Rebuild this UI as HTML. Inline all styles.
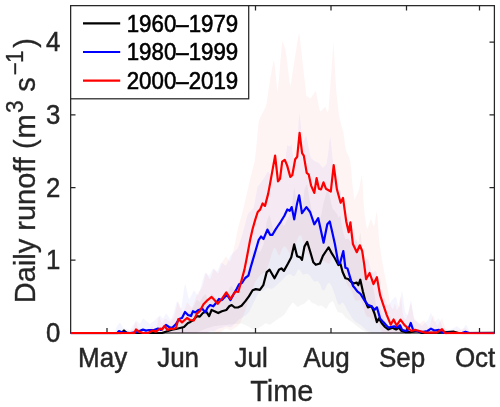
<!DOCTYPE html>
<html><head><meta charset="utf-8"><title>Daily runoff</title>
<style>html,body{margin:0;padding:0;background:#fff}svg{display:block;will-change:transform;opacity:0.999}text{font-family:"Liberation Sans",sans-serif;fill:#262626}</style></head><body>
<svg width="500" height="407" viewBox="0 0 500 407">
<rect width="500" height="407" fill="#fff"/>
<defs><clipPath id="c"><rect x="70.5" y="5.5" width="424.0" height="328.7"/></clipPath></defs>
<g stroke="#262626" stroke-width="1.25" fill="none">
<rect x="70.65" y="5.65" width="423.75" height="327.35"/>
<path d="M107.0 333.0v-5M107.0 5.5v5"/>
<path d="M182.5 333.0v-5M182.5 5.5v5"/>
<path d="M255.5 333.0v-5M255.5 5.5v5"/>
<path d="M331.0 333.0v-5M331.0 5.5v5"/>
<path d="M406.5 333.0v-5M406.5 5.5v5"/>
<path d="M479.5 333.0v-5M479.5 5.5v5"/>
<path d="M70.5 260.2h5M494.5 260.2h-5"/>
<path d="M70.5 187.5h5M494.5 187.5h-5"/>
<path d="M70.5 114.8h5M494.5 114.8h-5"/>
<path d="M70.5 42.0h5M494.5 42.0h-5"/>
</g>
<g clip-path="url(#c)">
<polygon points="70.5,333.2 71.5,333.2 72.5,333.2 73.5,333.2 74.5,333.2 75.5,333.2 76.5,333.2 77.5,333.2 78.5,333.2 79.5,333.2 80.5,333.2 81.5,333.2 82.5,333.2 83.5,333.2 84.5,333.2 85.5,333.2 86.5,333.2 87.5,333.2 88.5,333.2 89.5,333.2 90.5,333.2 91.5,333.2 92.5,333.2 93.5,333.2 94.5,333.2 95.5,333.2 96.5,333.2 97.5,333.2 98.5,333.2 99.5,333.2 100.5,333.2 101.5,333.2 102.5,333.2 103.5,333.2 104.5,333.2 105.5,333.2 106.5,333.2 107.5,333.2 108.5,333.2 109.5,333.2 110.5,333.2 111.5,333.2 112.5,333.2 113.5,333.2 114.5,333.2 115.5,333.2 116.5,333.2 117.5,333.2 118.5,333.2 119.5,333.2 120.5,333.2 121.5,332.5 122.5,330.7 123.5,328.9 124.5,328.8 125.5,330.5 126.5,332.2 127.5,333.0 128.5,333.0 129.5,333.0 130.5,333.0 131.5,333.0 132.5,333.0 133.5,333.0 134.5,333.0 135.5,333.0 136.5,333.0 137.5,333.0 138.5,333.0 139.5,333.0 140.5,333.0 141.5,333.0 142.5,333.0 143.5,333.0 144.5,333.0 145.5,333.0 146.5,333.0 147.5,333.0 148.5,333.0 149.5,333.0 150.5,333.0 151.5,333.0 152.5,333.0 153.5,333.0 154.5,333.0 155.5,333.0 156.5,333.0 157.5,333.0 158.5,333.0 159.5,333.0 160.5,333.0 161.5,333.0 162.5,332.7 163.5,332.0 164.5,331.3 165.5,330.7 166.5,330.0 167.5,329.3 168.5,328.6 169.5,328.0 170.5,327.2 171.5,326.6 172.5,326.1 173.5,325.8 174.5,325.5 175.5,325.1 176.5,324.8 177.5,324.2 178.5,323.8 179.5,323.2 180.5,322.8 181.5,322.2 182.5,321.8 183.5,321.2 184.5,320.0 185.5,318.0 186.5,316.0 187.5,314.0 188.5,312.6 189.5,311.8 190.5,310.8 191.5,309.5 192.5,308.2 193.5,306.9 194.5,304.8 195.5,302.4 196.5,300.3 197.5,300.1 198.5,300.9 199.5,301.7 200.5,300.6 201.5,298.7 202.5,296.8 203.5,295.7 204.5,295.0 205.5,294.1 206.5,295.4 207.5,298.9 208.5,302.4 209.5,302.6 210.5,298.0 211.5,293.4 212.5,294.0 213.5,295.1 214.5,296.2 215.5,297.5 216.5,298.6 217.5,299.7 218.5,300.2 219.5,299.3 220.5,298.4 221.5,297.5 222.5,296.8 223.5,296.4 224.5,295.9 225.5,295.5 226.5,294.7 227.5,292.3 228.5,289.9 229.5,287.8 230.5,286.8 231.5,285.8 232.5,287.0 233.5,288.8 234.5,290.5 235.5,291.0 236.5,291.0 237.5,291.1 238.5,290.6 239.5,289.8 240.5,288.9 241.5,288.1 242.5,285.5 243.5,282.6 244.5,279.7 245.5,276.7 246.5,273.5 247.5,270.3 248.5,267.1 249.5,263.5 250.5,259.5 251.5,255.6 252.5,251.6 253.5,250.6 254.5,250.1 255.5,249.6 256.5,249.8 257.5,250.4 258.5,251.0 259.5,251.8 260.5,251.1 261.5,249.1 262.5,247.1 263.5,244.1 264.5,237.2 265.5,230.2 266.5,222.2 267.5,218.9 268.5,216.8 269.5,214.8 270.5,218.0 271.5,222.3 272.5,226.6 273.5,230.9 274.5,235.2 275.5,232.1 276.5,228.9 277.5,225.7 278.5,222.5 279.5,220.7 280.5,220.3 281.5,220.1 282.5,222.9 283.5,225.8 284.5,225.2 285.5,222.9 286.5,221.0 287.5,219.1 288.5,217.0 289.5,214.5 290.5,212.0 291.5,208.1 292.5,200.7 293.5,191.8 294.5,187.2 295.5,194.4 296.5,201.6 297.5,205.8 298.5,207.0 299.5,208.3 300.5,210.1 301.5,213.4 302.5,209.7 303.5,199.2 304.5,189.1 305.5,186.8 306.5,184.6 307.5,185.2 308.5,192.7 309.5,198.7 310.5,204.1 311.5,209.8 312.5,215.9 313.5,221.5 314.5,223.2 315.5,224.7 316.5,224.2 317.5,222.9 318.5,221.9 319.5,221.4 320.5,218.2 321.5,213.3 322.5,207.6 323.5,203.0 324.5,199.2 325.5,195.5 326.5,192.0 327.5,190.9 328.5,189.8 329.5,194.8 330.5,199.5 331.5,204.0 332.5,208.0 333.5,209.7 334.5,210.5 335.5,211.9 336.5,213.3 337.5,214.8 338.5,217.7 339.5,216.5 340.5,215.3 341.5,222.7 342.5,229.6 343.5,233.0 344.5,236.2 345.5,239.3 346.5,239.0 347.5,238.7 348.5,238.8 349.5,240.2 350.5,241.5 351.5,242.5 352.5,243.0 353.5,243.3 354.5,242.3 355.5,240.8 356.5,239.2 357.5,240.9 358.5,242.1 359.5,235.8 360.5,232.4 361.5,240.7 362.5,249.1 363.5,256.9 364.5,264.3 365.5,271.4 366.5,275.8 367.5,280.3 368.5,281.6 369.5,280.9 370.5,280.3 371.5,279.6 372.5,284.5 373.5,289.3 374.5,294.2 375.5,301.4 376.5,308.5 377.5,309.2 378.5,305.5 379.5,306.0 380.5,309.4 381.5,312.8 382.5,315.4 383.5,317.7 384.5,320.0 385.5,322.0 386.5,323.5 387.5,325.1 388.5,325.9 389.5,325.1 390.5,324.3 391.5,323.5 392.5,322.9 393.5,323.8 394.5,324.7 395.5,325.6 396.5,325.6 397.5,324.1 398.5,322.6 399.5,323.9 400.5,326.4 401.5,328.9 402.5,329.6 403.5,330.2 404.5,330.7 405.5,331.2 406.5,331.3 407.5,331.3 408.5,331.3 409.5,331.3 410.5,331.2 411.5,330.9 412.5,330.6 413.5,330.3 414.5,330.0 415.5,329.6 416.5,329.3 417.5,329.4 418.5,330.3 419.5,331.1 420.5,332.0 421.5,332.9 422.5,333.0 423.5,333.0 424.5,332.9 425.5,332.9 426.5,332.9 427.5,332.9 428.5,332.8 429.5,332.8 430.5,332.7 431.5,332.7 432.5,332.6 433.5,332.6 434.5,332.5 435.5,332.5 436.5,332.4 437.5,332.4 438.5,332.4 439.5,332.3 440.5,332.2 441.5,332.1 442.5,332.0 443.5,331.8 444.5,331.7 445.5,331.6 446.5,331.4 447.5,331.3 448.5,331.2 449.5,331.0 450.5,330.9 451.5,330.8 452.5,330.7 453.5,330.5 454.5,330.8 455.5,331.3 456.5,331.9 457.5,332.5 458.5,333.0 459.5,333.0 460.5,333.0 461.5,333.0 462.5,333.0 463.5,333.0 464.5,333.0 465.5,333.0 466.5,333.0 467.5,332.9 468.5,332.9 469.5,332.9 470.5,332.9 471.5,332.9 472.5,332.9 473.5,332.9 474.5,332.9 475.5,332.8 476.5,332.8 477.5,332.8 478.5,332.8 479.5,332.8 480.5,332.8 481.5,332.8 482.5,332.8 483.5,332.7 484.5,332.7 485.5,332.7 486.5,332.7 487.5,332.7 488.5,332.7 489.5,332.7 490.5,332.7 491.5,332.6 492.5,332.6 493.5,332.6 494.5,332.6 494.5,333.0 493.5,333.0 492.5,333.0 491.5,333.0 490.5,333.0 489.5,333.0 488.5,333.0 487.5,333.0 486.5,333.0 485.5,333.0 484.5,333.0 483.5,333.0 482.5,333.0 481.5,333.0 480.5,333.0 479.5,333.0 478.5,333.0 477.5,333.0 476.5,333.0 475.5,333.0 474.5,333.0 473.5,333.0 472.5,333.0 471.5,333.0 470.5,333.0 469.5,333.0 468.5,333.0 467.5,333.0 466.5,333.0 465.5,333.0 464.5,333.0 463.5,333.0 462.5,332.9 461.5,332.9 460.5,332.9 459.5,332.9 458.5,332.9 457.5,332.9 456.5,332.9 455.5,332.9 454.5,332.9 453.5,332.9 452.5,332.9 451.5,332.9 450.5,332.9 449.5,332.9 448.5,332.9 447.5,332.9 446.5,332.9 445.5,332.9 444.5,332.9 443.5,332.9 442.5,332.9 441.5,332.9 440.5,332.9 439.5,332.9 438.5,332.9 437.5,332.9 436.5,332.9 435.5,332.9 434.5,332.9 433.5,332.9 432.5,332.9 431.5,332.9 430.5,332.9 429.5,332.9 428.5,332.9 427.5,332.9 426.5,332.9 425.5,332.9 424.5,332.9 423.5,332.9 422.5,332.9 421.5,332.9 420.5,332.9 419.5,332.9 418.5,332.9 417.5,332.9 416.5,332.9 415.5,332.9 414.5,332.9 413.5,332.9 412.5,332.9 411.5,332.9 410.5,332.9 409.5,332.9 408.5,332.9 407.5,332.9 406.5,332.9 405.5,332.9 404.5,332.9 403.5,332.9 402.5,332.9 401.5,332.9 400.5,332.9 399.5,332.8 398.5,332.8 397.5,332.8 396.5,332.8 395.5,332.8 394.5,332.8 393.5,332.8 392.5,332.8 391.5,332.8 390.5,332.8 389.5,332.8 388.5,332.8 387.5,332.8 386.5,332.8 385.5,332.8 384.5,332.8 383.5,332.8 382.5,332.8 381.5,332.8 380.5,332.8 379.5,332.8 378.5,332.8 377.5,332.8 376.5,332.8 375.5,332.8 374.5,332.8 373.5,332.8 372.5,332.8 371.5,332.8 370.5,332.8 369.5,332.8 368.5,332.8 367.5,332.6 366.5,332.1 365.5,331.7 364.5,331.2 363.5,330.7 362.5,330.1 361.5,329.5 360.5,328.8 359.5,328.1 358.5,327.4 357.5,326.6 356.5,325.8 355.5,325.0 354.5,324.2 353.5,323.3 352.5,322.4 351.5,321.7 350.5,321.1 349.5,320.4 348.5,319.8 347.5,319.0 346.5,318.2 345.5,317.4 344.5,316.3 343.5,315.0 342.5,313.7 341.5,312.9 340.5,312.7 339.5,312.4 338.5,312.2 337.5,311.8 336.5,309.5 335.5,307.2 334.5,304.8 333.5,302.5 332.5,301.0 331.5,301.7 330.5,302.4 329.5,303.2 328.5,305.1 327.5,306.9 326.5,308.8 325.5,308.4 324.5,307.7 323.5,306.9 322.5,306.2 321.5,305.6 320.5,305.7 319.5,305.8 318.5,305.9 317.5,305.7 316.5,305.0 315.5,304.3 314.5,303.8 313.5,303.5 312.5,303.2 311.5,302.4 310.5,301.2 309.5,300.0 308.5,299.5 307.5,300.5 306.5,301.5 305.5,302.5 304.5,303.5 303.5,304.2 302.5,304.5 301.5,304.8 300.5,305.3 299.5,305.9 298.5,306.5 297.5,306.9 296.5,305.9 295.5,305.0 294.5,304.0 293.5,303.1 292.5,302.8 291.5,304.1 290.5,305.5 289.5,306.8 288.5,308.1 287.5,309.7 286.5,311.4 285.5,313.1 284.5,314.4 283.5,315.2 282.5,316.1 281.5,316.9 280.5,317.5 279.5,318.1 278.5,318.8 277.5,319.4 276.5,320.0 275.5,320.7 274.5,321.4 273.5,322.2 272.5,323.0 271.5,323.8 270.5,324.6 269.5,324.8 268.5,324.4 267.5,324.0 266.5,323.6 265.5,323.3 264.5,324.0 263.5,324.7 262.5,325.5 261.5,326.2 260.5,326.9 259.5,327.6 258.5,328.1 257.5,328.4 256.5,328.6 255.5,328.8 254.5,329.1 253.5,329.3 252.5,329.3 251.5,328.6 250.5,328.0 249.5,327.3 248.5,326.8 247.5,326.2 246.5,325.8 245.5,325.2 244.5,324.8 243.5,324.2 242.5,323.8 241.5,323.5 240.5,323.6 239.5,323.7 238.5,323.8 237.5,323.9 236.5,324.0 235.5,324.0 234.5,324.1 233.5,324.2 232.5,324.3 231.5,324.4 230.5,324.5 229.5,324.6 228.5,324.6 227.5,324.8 226.5,324.9 225.5,324.9 224.5,325.1 223.5,325.1 222.5,325.2 221.5,325.4 220.5,325.4 219.5,325.6 218.5,325.6 217.5,325.8 216.5,325.9 215.5,325.9 214.5,326.1 213.5,326.4 212.5,326.8 211.5,327.1 210.5,327.4 209.5,327.6 208.5,327.9 207.5,328.2 206.5,328.6 205.5,328.9 204.5,329.2 203.5,329.7 202.5,330.1 201.5,330.6 200.5,331.0 199.5,331.4 198.5,331.9 197.5,332.3 196.5,332.8 195.5,333.0 194.5,333.0 193.5,333.0 192.5,333.0 191.5,333.0 190.5,333.0 189.5,333.0 188.5,333.0 187.5,333.0 186.5,333.0 185.5,333.0 184.5,333.0 183.5,333.0 182.5,333.0 181.5,333.0 180.5,333.0 179.5,333.0 178.5,333.0 177.5,333.0 176.5,333.0 175.5,333.0 174.5,333.0 173.5,333.0 172.5,333.0 171.5,333.0 170.5,333.0 169.5,333.0 168.5,333.0 167.5,333.0 166.5,333.0 165.5,333.0 164.5,333.0 163.5,333.0 162.5,333.0 161.5,333.0 160.5,333.0 159.5,333.0 158.5,333.0 157.5,333.0 156.5,333.0 155.5,333.0 154.5,333.0 153.5,333.0 152.5,333.0 151.5,333.0 150.5,333.0 149.5,333.0 148.5,333.0 147.5,333.0 146.5,333.0 145.5,333.0 144.5,333.0 143.5,333.0 142.5,333.0 141.5,333.0 140.5,333.0 139.5,333.0 138.5,333.0 137.5,333.0 136.5,333.0 135.5,333.0 134.5,333.0 133.5,333.0 132.5,333.0 131.5,333.0 130.5,333.0 129.5,333.0 128.5,333.0 127.5,333.0 126.5,333.0 125.5,333.0 124.5,333.0 123.5,333.0 122.5,333.0 121.5,333.0 120.5,333.0 119.5,333.0 118.5,333.0 117.5,333.0 116.5,333.0 115.5,333.0 114.5,333.0 113.5,333.0 112.5,333.0 111.5,333.0 110.5,333.0 109.5,333.0 108.5,333.0 107.5,333.0 106.5,333.0 105.5,333.0 104.5,333.0 103.5,333.0 102.5,333.0 101.5,333.0 100.5,333.0 99.5,333.0 98.5,333.0 97.5,333.0 96.5,333.0 95.5,333.0 94.5,333.0 93.5,333.0 92.5,333.0 91.5,333.0 90.5,333.0 89.5,333.0 88.5,333.0 87.5,333.0 86.5,333.0 85.5,333.0 84.5,333.0 83.5,333.0 82.5,333.0 81.5,333.0 80.5,333.0 79.5,333.0 78.5,333.0 77.5,333.0 76.5,333.0 75.5,333.0 74.5,333.0 73.5,333.0 72.5,333.0 71.5,333.0 70.5,333.0" fill="#000" fill-opacity="0.04"/>
<polygon points="70.5,333.0 71.5,333.0 72.5,333.0 73.5,333.0 74.5,333.0 75.5,333.0 76.5,333.0 77.5,333.0 78.5,333.0 79.5,333.0 80.5,333.0 81.5,333.0 82.5,333.0 83.5,333.0 84.5,333.0 85.5,333.0 86.5,333.0 87.5,333.0 88.5,333.0 89.5,333.0 90.5,333.0 91.5,333.0 92.5,333.0 93.5,333.0 94.5,333.0 95.5,333.0 96.5,333.0 97.5,333.0 98.5,333.0 99.5,333.0 100.5,333.0 101.5,333.0 102.5,333.0 103.5,333.0 104.5,333.0 105.5,333.0 106.5,333.0 107.5,333.0 108.5,333.0 109.5,333.0 110.5,333.0 111.5,333.0 112.5,333.0 113.5,333.0 114.5,331.8 115.5,329.5 116.5,327.2 117.5,325.3 118.5,324.0 119.5,322.7 120.5,323.0 121.5,325.0 122.5,327.0 123.5,328.1 124.5,328.4 125.5,328.7 126.5,329.0 127.5,329.3 128.5,329.6 129.5,329.9 130.5,329.2 131.5,327.5 132.5,325.8 133.5,324.2 134.5,322.5 135.5,320.8 136.5,320.5 137.5,321.5 138.5,322.5 139.5,323.5 140.5,323.0 141.5,321.0 142.5,319.0 143.5,318.4 144.5,319.3 145.5,320.1 146.5,321.0 147.5,321.9 148.5,322.7 149.5,323.6 150.5,323.6 151.5,322.8 152.5,322.0 153.5,321.2 154.5,320.4 155.5,319.5 156.5,318.5 157.5,317.5 158.5,316.5 159.5,315.5 160.5,315.7 161.5,317.0 162.5,318.3 163.5,318.0 164.5,316.0 165.5,314.0 166.5,313.7 167.5,315.1 168.5,316.5 169.5,317.9 170.5,319.3 171.5,318.7 172.5,316.0 173.5,313.3 174.5,310.0 175.5,306.0 176.5,302.0 177.5,301.2 178.5,303.8 179.5,306.2 180.5,308.8 181.5,306.5 182.5,299.5 183.5,292.5 184.5,285.5 185.5,284.2 186.5,288.8 187.5,293.2 188.5,297.8 189.5,299.0 190.5,297.0 191.5,295.0 192.5,293.0 193.5,291.0 194.5,290.8 195.5,292.2 196.5,293.8 197.5,295.2 198.5,294.3 199.5,291.0 200.5,287.7 201.5,284.2 202.5,280.8 203.5,277.2 204.5,273.8 205.5,272.5 206.5,273.5 207.5,274.5 208.5,275.5 209.5,275.0 210.5,273.0 211.5,271.0 212.5,269.0 213.5,268.5 214.5,269.5 215.5,270.5 216.5,271.5 217.5,270.8 218.5,268.2 219.5,265.8 220.5,263.2 221.5,262.4 222.5,263.2 223.5,264.0 224.5,264.8 225.5,265.6 226.5,264.8 227.5,262.2 228.5,259.8 229.5,257.2 230.5,255.5 231.5,254.5 232.5,253.5 233.5,252.5 234.5,251.5 235.5,250.5 236.5,249.5 237.5,248.5 238.5,246.4 239.5,243.2 240.5,240.0 241.5,236.8 242.5,233.6 243.5,230.1 244.5,226.2 245.5,222.4 246.5,218.6 247.5,214.8 248.5,212.9 249.5,212.0 250.5,211.0 251.5,210.0 252.5,209.1 253.5,208.1 254.5,203.1 255.5,197.6 256.5,192.1 257.5,186.6 258.5,185.2 259.5,184.3 260.5,182.9 261.5,181.5 262.5,180.1 263.5,178.7 264.5,177.1 265.5,175.4 266.5,173.6 267.5,171.9 268.5,171.8 269.5,173.5 270.5,175.2 271.5,176.7 272.5,178.0 273.5,179.3 274.5,179.5 275.5,178.5 276.5,177.5 277.5,176.5 278.5,175.3 279.5,174.0 280.5,172.7 281.5,171.0 282.5,169.0 283.5,167.0 284.5,163.3 285.5,158.0 286.5,150.0 287.5,144.7 288.5,145.8 289.5,146.7 290.5,145.3 291.5,143.9 292.5,151.2 293.5,157.8 294.5,160.6 295.5,161.0 296.5,159.0 297.5,144.2 298.5,122.2 299.5,112.9 300.5,121.0 301.5,131.3 302.5,142.0 303.5,140.7 304.5,138.9 305.5,136.6 306.5,136.3 307.5,140.8 308.5,146.0 309.5,151.8 310.5,155.9 311.5,158.4 312.5,159.3 313.5,160.1 314.5,161.0 315.5,161.4 316.5,161.9 317.5,162.3 318.5,162.8 319.5,163.6 320.5,164.9 321.5,166.1 322.5,167.4 323.5,167.4 324.5,166.3 325.5,165.1 326.5,164.0 327.5,157.0 328.5,150.0 329.5,140.3 330.5,136.6 331.5,147.0 332.5,157.0 333.5,164.7 334.5,169.0 335.5,170.9 336.5,173.8 337.5,178.3 338.5,182.8 339.5,187.5 340.5,192.5 341.5,197.5 342.5,200.8 343.5,202.5 344.5,204.2 345.5,207.5 346.5,212.6 347.5,217.7 348.5,220.7 349.5,222.4 350.5,224.1 351.5,226.5 352.5,229.5 353.5,232.5 354.5,235.5 355.5,238.5 356.5,241.2 357.5,243.7 358.5,246.2 359.5,248.7 360.5,251.5 361.5,254.5 362.5,257.5 363.5,260.5 364.5,261.5 365.5,260.5 366.5,259.5 367.5,258.5 368.5,260.0 369.5,264.0 370.5,268.0 371.5,272.0 372.5,273.5 373.5,272.5 374.5,271.5 375.5,270.5 376.5,272.0 377.5,276.0 378.5,280.0 379.5,284.0 380.5,287.2 381.5,289.8 382.5,292.2 383.5,294.8 384.5,297.2 385.5,299.8 386.5,302.2 387.5,304.8 388.5,305.2 389.5,303.8 390.5,302.2 391.5,300.8 392.5,299.5 393.5,298.5 394.5,297.5 395.5,296.5 396.5,298.3 397.5,303.0 398.5,307.7 399.5,306.3 400.5,299.0 401.5,291.7 402.5,292.0 403.5,300.0 404.5,308.0 405.5,312.7 406.5,314.0 407.5,315.3 408.5,313.0 409.5,307.0 410.5,301.0 411.5,301.7 412.5,309.0 413.5,316.3 414.5,320.2 415.5,320.8 416.5,321.2 417.5,321.8 418.5,322.5 419.5,323.5 420.5,324.5 421.5,325.5 422.5,325.5 423.5,324.5 424.5,323.5 425.5,322.5 426.5,321.5 427.5,320.5 428.5,318.7 429.5,316.0 430.5,313.3 431.5,313.7 432.5,317.0 433.5,320.3 434.5,321.6 435.5,320.8 436.5,320.0 437.5,319.2 438.5,318.4 439.5,319.2 440.5,321.8 441.5,324.2 442.5,326.8 443.5,328.1 444.5,328.4 445.5,328.7 446.5,329.0 447.5,329.3 448.5,329.6 449.5,329.9 450.5,329.7 451.5,329.1 452.5,328.6 453.5,328.0 454.5,327.4 455.5,326.9 456.5,326.3 457.5,326.5 458.5,327.5 459.5,328.5 460.5,329.5 461.5,330.5 462.5,330.1 463.5,328.4 464.5,326.6 465.5,324.9 466.5,325.0 467.5,327.0 468.5,329.0 469.5,331.0 470.5,332.0 471.5,332.1 472.5,332.1 473.5,332.1 474.5,332.2 475.5,332.2 476.5,332.3 477.5,332.3 478.5,332.3 479.5,332.4 480.5,332.4 481.5,332.5 482.5,332.5 483.5,332.6 484.5,332.6 485.5,332.6 486.5,332.7 487.5,332.7 488.5,332.8 489.5,332.8 490.5,332.8 491.5,332.9 492.5,332.9 493.5,333.0 494.5,333.0 494.5,333.0 493.5,333.0 492.5,333.0 491.5,333.0 490.5,333.0 489.5,333.0 488.5,333.0 487.5,333.0 486.5,333.0 485.5,333.0 484.5,333.0 483.5,333.0 482.5,333.0 481.5,333.0 480.5,333.0 479.5,333.0 478.5,333.0 477.5,333.0 476.5,333.0 475.5,333.0 474.5,333.0 473.5,333.0 472.5,333.0 471.5,333.0 470.5,333.0 469.5,333.0 468.5,333.0 467.5,333.0 466.5,333.0 465.5,333.0 464.5,333.0 463.5,333.0 462.5,333.0 461.5,333.0 460.5,333.0 459.5,333.0 458.5,333.0 457.5,333.0 456.5,333.0 455.5,333.0 454.5,333.0 453.5,333.0 452.5,333.0 451.5,333.0 450.5,333.0 449.5,333.0 448.5,333.0 447.5,333.0 446.5,333.0 445.5,333.0 444.5,333.0 443.5,333.0 442.5,333.0 441.5,333.0 440.5,333.0 439.5,333.0 438.5,333.0 437.5,333.0 436.5,333.0 435.5,333.0 434.5,333.0 433.5,333.0 432.5,333.0 431.5,333.0 430.5,333.0 429.5,333.0 428.5,333.0 427.5,333.0 426.5,333.0 425.5,333.0 424.5,333.0 423.5,333.0 422.5,333.0 421.5,333.0 420.5,333.0 419.5,333.0 418.5,333.0 417.5,333.0 416.5,333.0 415.5,333.0 414.5,333.0 413.5,333.0 412.5,333.0 411.5,333.0 410.5,333.0 409.5,333.0 408.5,333.0 407.5,333.0 406.5,333.0 405.5,333.0 404.5,333.0 403.5,333.0 402.5,333.0 401.5,333.0 400.5,333.0 399.5,333.0 398.5,333.0 397.5,333.0 396.5,333.0 395.5,333.0 394.5,333.0 393.5,333.0 392.5,333.0 391.5,333.0 390.5,333.0 389.5,333.0 388.5,333.0 387.5,333.0 386.5,333.0 385.5,333.0 384.5,333.0 383.5,333.0 382.5,333.0 381.5,333.0 380.5,333.0 379.5,333.0 378.5,333.0 377.5,333.0 376.5,333.0 375.5,333.0 374.5,333.0 373.5,333.0 372.5,333.0 371.5,332.5 370.5,332.1 369.5,331.7 368.5,331.3 367.5,330.8 366.5,330.2 365.5,329.5 364.5,328.6 363.5,327.7 362.5,326.8 361.5,325.9 360.5,325.1 359.5,324.5 358.5,323.8 357.5,323.2 356.5,322.6 355.5,321.9 354.5,321.0 353.5,320.0 352.5,318.8 351.5,317.3 350.5,315.5 349.5,313.6 348.5,312.0 347.5,310.7 346.5,308.9 345.5,306.6 344.5,304.9 343.5,303.6 342.5,302.8 341.5,303.1 340.5,304.5 339.5,305.0 338.5,304.4 337.5,302.7 336.5,300.2 335.5,297.1 334.5,294.1 333.5,291.2 332.5,288.5 331.5,286.0 330.5,284.2 329.5,283.1 328.5,283.1 327.5,284.1 326.5,286.1 325.5,288.4 324.5,290.0 323.5,290.6 322.5,290.1 321.5,288.4 320.5,285.6 319.5,283.4 318.5,281.9 317.5,281.2 316.5,281.2 315.5,281.5 314.5,281.5 313.5,280.9 312.5,279.8 311.5,278.3 310.5,276.8 309.5,275.5 308.5,274.5 307.5,273.9 306.5,273.7 305.5,273.9 304.5,274.4 303.5,274.7 302.5,274.2 301.5,272.7 300.5,271.1 299.5,269.8 298.5,269.4 297.5,270.4 296.5,272.8 295.5,275.0 294.5,276.1 293.5,276.2 292.5,275.9 291.5,275.0 290.5,274.3 289.5,274.2 288.5,274.6 287.5,275.1 286.5,275.7 285.5,276.5 284.5,277.6 283.5,278.7 282.5,279.8 281.5,280.7 280.5,281.7 279.5,282.6 278.5,283.5 277.5,284.4 276.5,285.3 275.5,286.3 274.5,287.3 273.5,288.1 272.5,288.7 271.5,289.0 270.5,288.8 269.5,288.2 268.5,287.9 267.5,287.8 266.5,288.2 265.5,289.0 264.5,290.0 263.5,290.6 262.5,291.0 261.5,291.3 260.5,291.5 259.5,292.2 258.5,293.5 257.5,295.1 256.5,297.0 255.5,299.0 254.5,301.1 253.5,303.1 252.5,305.2 251.5,307.2 250.5,309.3 249.5,311.2 248.5,312.7 247.5,313.8 246.5,314.7 245.5,315.4 244.5,316.1 243.5,316.8 242.5,317.5 241.5,318.1 240.5,318.7 239.5,319.3 238.5,320.0 237.5,320.9 236.5,321.9 235.5,323.0 234.5,324.1 233.5,325.2 232.5,326.3 231.5,327.0 230.5,327.3 229.5,327.2 228.5,326.9 227.5,326.5 226.5,326.3 225.5,326.5 224.5,326.9 223.5,327.4 222.5,327.8 221.5,328.0 220.5,328.2 219.5,328.4 218.5,328.7 217.5,329.2 216.5,329.8 215.5,330.6 214.5,331.2 213.5,331.6 212.5,331.8 211.5,331.9 210.5,332.0 209.5,332.2 208.5,332.7 207.5,333.0 206.5,333.0 205.5,333.0 204.5,333.0 203.5,333.0 202.5,333.0 201.5,333.0 200.5,333.0 199.5,333.0 198.5,333.0 197.5,333.0 196.5,333.0 195.5,333.0 194.5,333.0 193.5,333.0 192.5,333.0 191.5,333.0 190.5,333.0 189.5,333.0 188.5,333.0 187.5,333.0 186.5,333.0 185.5,333.0 184.5,333.0 183.5,333.0 182.5,333.0 181.5,333.0 180.5,333.0 179.5,333.0 178.5,333.0 177.5,333.0 176.5,333.0 175.5,333.0 174.5,333.0 173.5,333.0 172.5,333.0 171.5,333.0 170.5,333.0 169.5,333.0 168.5,333.0 167.5,333.0 166.5,333.0 165.5,333.0 164.5,333.0 163.5,333.0 162.5,333.0 161.5,333.0 160.5,333.0 159.5,333.0 158.5,333.0 157.5,333.0 156.5,333.0 155.5,333.0 154.5,333.0 153.5,333.0 152.5,333.0 151.5,333.0 150.5,333.0 149.5,333.0 148.5,333.0 147.5,333.0 146.5,333.0 145.5,333.0 144.5,333.0 143.5,333.0 142.5,333.0 141.5,333.0 140.5,333.0 139.5,333.0 138.5,333.0 137.5,333.0 136.5,333.0 135.5,333.0 134.5,333.0 133.5,333.0 132.5,333.0 131.5,333.0 130.5,333.0 129.5,333.0 128.5,333.0 127.5,333.0 126.5,333.0 125.5,333.0 124.5,333.0 123.5,333.0 122.5,333.0 121.5,333.0 120.5,333.0 119.5,333.0 118.5,333.0 117.5,333.0 116.5,333.0 115.5,333.0 114.5,333.0 113.5,333.0 112.5,333.0 111.5,333.0 110.5,333.0 109.5,333.0 108.5,333.0 107.5,333.0 106.5,333.0 105.5,333.0 104.5,333.0 103.5,333.0 102.5,333.0 101.5,333.0 100.5,333.0 99.5,333.0 98.5,333.0 97.5,333.0 96.5,333.0 95.5,333.0 94.5,333.0 93.5,333.0 92.5,333.0 91.5,333.0 90.5,333.0 89.5,333.0 88.5,333.0 87.5,333.0 86.5,333.0 85.5,333.0 84.5,333.0 83.5,333.0 82.5,333.0 81.5,333.0 80.5,333.0 79.5,333.0 78.5,333.0 77.5,333.0 76.5,333.0 75.5,333.0 74.5,333.0 73.5,333.0 72.5,333.0 71.5,333.0 70.5,333.0" fill="#0000ff" fill-opacity="0.04"/>
<polygon points="70.5,333.0 71.5,333.0 72.5,333.0 73.5,333.0 74.5,333.0 75.5,333.0 76.5,333.0 77.5,333.0 78.5,333.0 79.5,333.0 80.5,333.0 81.5,333.0 82.5,333.0 83.5,333.0 84.5,333.0 85.5,333.0 86.5,333.0 87.5,333.0 88.5,333.0 89.5,333.0 90.5,333.0 91.5,333.0 92.5,333.0 93.5,333.0 94.5,333.0 95.5,333.0 96.5,333.0 97.5,333.0 98.5,333.0 99.5,333.0 100.5,333.0 101.5,333.0 102.5,333.0 103.5,333.0 104.5,333.0 105.5,333.0 106.5,333.0 107.5,333.0 108.5,333.0 109.5,333.0 110.5,333.0 111.5,333.0 112.5,333.0 113.5,333.0 114.5,333.0 115.5,333.0 116.5,333.0 117.5,333.0 118.5,333.0 119.5,333.0 120.5,333.0 121.5,333.0 122.5,333.0 123.5,333.0 124.5,333.0 125.5,333.0 126.5,333.0 127.5,333.0 128.5,332.6 129.5,331.8 130.5,331.0 131.5,330.2 132.5,329.4 133.5,327.7 134.5,325.0 135.5,322.3 136.5,322.5 137.5,325.5 138.5,328.5 139.5,330.1 140.5,330.4 141.5,330.6 142.5,330.9 143.5,331.1 144.5,331.4 145.5,331.6 146.5,331.9 147.5,331.4 148.5,330.2 149.5,329.0 150.5,327.8 151.5,326.6 152.5,326.5 153.5,327.5 154.5,328.5 155.5,329.5 156.5,327.5 157.5,322.5 158.5,317.5 159.5,316.5 160.5,319.5 161.5,322.5 162.5,323.0 163.5,321.0 164.5,319.0 165.5,318.4 166.5,319.2 167.5,320.0 168.5,320.8 169.5,321.6 170.5,321.5 171.5,320.5 172.5,319.5 173.5,318.5 174.5,315.8 175.5,311.2 176.5,306.8 177.5,302.2 178.5,301.4 179.5,304.2 180.5,307.0 181.5,309.8 182.5,312.6 183.5,312.5 184.5,309.5 185.5,306.5 186.5,303.5 187.5,302.6 188.5,303.8 189.5,305.0 190.5,306.2 191.5,307.4 192.5,306.6 193.5,303.8 194.5,301.0 195.5,298.2 196.5,295.4 197.5,293.4 198.5,292.2 199.5,291.0 200.5,289.8 201.5,288.6 202.5,286.0 203.5,282.0 204.5,278.0 205.5,274.0 206.5,273.0 207.5,275.0 208.5,277.0 209.5,279.0 210.5,278.5 211.5,275.5 212.5,272.5 213.5,269.5 214.5,268.8 215.5,270.2 216.5,271.8 217.5,273.2 218.5,272.5 219.5,269.5 220.5,266.5 221.5,263.5 222.5,261.2 223.5,259.8 224.5,258.2 225.5,256.8 226.5,256.8 227.5,258.2 228.5,259.8 229.5,261.2 230.5,260.2 231.5,256.8 232.5,253.2 233.5,249.8 234.5,245.5 235.5,240.5 236.5,235.5 237.5,230.5 238.5,226.2 239.5,222.6 240.5,219.0 241.5,215.4 242.5,211.8 243.5,207.8 244.5,203.4 245.5,199.1 246.5,194.7 247.5,190.3 248.5,185.9 249.5,181.6 250.5,177.2 251.5,173.1 252.5,169.4 253.5,165.6 254.5,161.9 255.5,154.7 256.5,144.1 257.5,133.4 258.5,122.8 259.5,119.1 260.5,117.1 261.5,115.0 262.5,113.0 263.5,111.0 264.5,109.0 265.5,107.1 266.5,103.2 267.5,96.4 268.5,89.7 269.5,82.9 270.5,76.8 271.5,71.4 272.5,65.9 273.5,60.5 274.5,62.7 275.5,72.5 276.5,82.2 277.5,92.0 278.5,82.7 279.5,71.2 280.5,59.8 281.5,48.3 282.5,41.1 283.5,43.8 284.5,46.5 285.5,49.2 286.5,56.3 287.5,64.5 288.5,72.8 289.5,81.0 290.5,86.2 291.5,79.5 292.5,72.7 293.5,65.9 294.5,59.3 295.5,53.2 296.5,47.2 297.5,41.1 298.5,35.0 299.5,33.6 300.5,42.9 301.5,52.1 302.5,61.4 303.5,69.9 304.5,78.5 305.5,87.1 306.5,95.7 307.5,96.4 308.5,97.1 309.5,97.7 310.5,98.4 311.5,96.9 312.5,95.4 313.5,93.9 314.5,92.4 315.5,90.9 316.5,93.5 317.5,98.7 318.5,104.0 319.5,109.3 320.5,111.4 321.5,110.4 322.5,109.4 323.5,108.4 324.5,107.4 325.5,106.8 326.5,109.8 327.5,112.8 328.5,109.2 329.5,95.7 330.5,82.2 331.5,68.6 332.5,55.1 333.5,41.6 334.5,59.6 335.5,77.7 336.5,93.0 337.5,102.0 338.5,111.0 339.5,117.3 340.5,121.8 341.5,125.7 342.5,129.0 343.5,132.8 344.5,140.3 345.5,147.7 346.5,151.6 347.5,153.9 348.5,155.8 349.5,157.6 350.5,162.4 351.5,172.5 352.5,185.0 353.5,193.3 354.5,200.0 355.5,197.6 356.5,195.2 357.5,193.0 358.5,191.0 359.5,187.0 360.5,181.0 361.5,175.0 362.5,181.5 363.5,200.5 364.5,213.3 365.5,220.0 366.5,226.7 367.5,228.5 368.5,225.5 369.5,222.5 370.5,219.5 371.5,219.7 372.5,223.0 373.5,226.3 374.5,224.7 375.5,218.0 376.5,211.3 377.5,216.0 378.5,232.0 379.5,243.3 380.5,250.0 381.5,256.7 382.5,262.7 383.5,268.0 384.5,273.3 385.5,278.3 386.5,283.0 387.5,287.7 388.5,293.5 389.5,300.5 390.5,305.0 391.5,307.0 392.5,309.0 393.5,308.0 394.5,304.0 395.5,304.5 396.5,309.5 397.5,309.8 398.5,305.2 399.5,300.8 400.5,296.2 401.5,299.5 402.5,310.5 403.5,316.7 404.5,318.0 405.5,319.3 406.5,318.2 407.5,314.6 408.5,311.0 409.5,307.4 410.5,303.8 411.5,304.7 412.5,310.0 413.5,315.3 414.5,318.6 415.5,319.8 416.5,321.0 417.5,322.2 418.5,323.4 419.5,323.6 420.5,322.8 421.5,322.0 422.5,321.2 423.5,320.4 424.5,320.8 425.5,322.4 426.5,324.0 427.5,325.6 428.5,327.2 429.5,326.2 430.5,322.8 431.5,319.2 432.5,315.8 433.5,315.5 434.5,318.5 435.5,321.5 436.5,324.5 437.5,325.2 438.5,323.6 439.5,322.0 440.5,320.4 441.5,318.8 442.5,319.5 443.5,322.5 444.5,325.5 445.5,328.5 446.5,330.1 447.5,330.2 448.5,330.3 449.5,330.4 450.5,330.5 451.5,330.6 452.5,330.7 453.5,330.8 454.5,330.9 455.5,330.9 456.5,330.6 457.5,330.2 458.5,329.9 459.5,329.6 460.5,329.4 461.5,329.1 462.5,328.8 463.5,328.4 464.5,328.1 465.5,328.4 466.5,329.2 467.5,330.0 468.5,330.8 469.5,331.6 470.5,332.0 471.5,332.1 472.5,332.1 473.5,332.1 474.5,332.2 475.5,332.2 476.5,332.3 477.5,332.3 478.5,332.3 479.5,332.4 480.5,332.4 481.5,332.5 482.5,332.5 483.5,332.6 484.5,332.6 485.5,332.6 486.5,332.7 487.5,332.7 488.5,332.8 489.5,332.8 490.5,332.8 491.5,332.9 492.5,332.9 493.5,333.0 494.5,333.0 494.5,333.0 493.5,333.0 492.5,333.0 491.5,333.0 490.5,333.0 489.5,333.0 488.5,333.0 487.5,333.0 486.5,333.0 485.5,333.0 484.5,333.0 483.5,333.0 482.5,333.0 481.5,333.0 480.5,333.0 479.5,333.0 478.5,333.0 477.5,333.0 476.5,333.0 475.5,333.0 474.5,333.0 473.5,333.0 472.5,333.0 471.5,333.0 470.5,333.0 469.5,333.0 468.5,333.0 467.5,333.0 466.5,333.0 465.5,333.0 464.5,333.0 463.5,333.0 462.5,333.0 461.5,333.0 460.5,333.0 459.5,333.0 458.5,333.0 457.5,333.0 456.5,333.0 455.5,333.0 454.5,333.0 453.5,333.0 452.5,333.0 451.5,333.0 450.5,333.0 449.5,333.0 448.5,333.0 447.5,333.0 446.5,333.0 445.5,333.0 444.5,333.0 443.5,333.0 442.5,333.0 441.5,333.0 440.5,333.0 439.5,333.0 438.5,333.0 437.5,333.0 436.5,333.0 435.5,333.0 434.5,333.0 433.5,333.0 432.5,333.0 431.5,333.0 430.5,333.0 429.5,333.0 428.5,333.0 427.5,333.0 426.5,333.0 425.5,333.0 424.5,333.0 423.5,333.0 422.5,333.0 421.5,333.0 420.5,333.0 419.5,333.0 418.5,333.0 417.5,333.0 416.5,333.0 415.5,333.0 414.5,333.0 413.5,333.0 412.5,333.0 411.5,333.0 410.5,333.0 409.5,333.0 408.5,333.0 407.5,333.0 406.5,333.0 405.5,333.0 404.5,333.0 403.5,333.0 402.5,333.0 401.5,333.0 400.5,333.0 399.5,333.0 398.5,333.0 397.5,333.0 396.5,333.0 395.5,333.0 394.5,333.0 393.5,333.0 392.5,333.0 391.5,333.0 390.5,333.0 389.5,333.0 388.5,333.0 387.5,333.0 386.5,333.0 385.5,333.0 384.5,333.0 383.5,333.0 382.5,333.0 381.5,331.6 380.5,329.2 379.5,326.5 378.5,323.8 377.5,321.8 376.5,320.6 375.5,320.4 374.5,320.5 373.5,320.5 372.5,320.0 371.5,318.9 370.5,317.7 369.5,317.2 368.5,317.2 367.5,317.0 366.5,316.2 365.5,314.3 364.5,311.4 363.5,307.8 362.5,304.4 361.5,301.8 360.5,300.4 359.5,300.1 358.5,300.4 357.5,300.7 356.5,300.8 355.5,300.5 354.5,299.2 353.5,296.8 352.5,293.5 351.5,291.1 350.5,289.4 349.5,287.7 348.5,286.5 347.5,285.6 346.5,283.3 345.5,279.6 344.5,276.1 343.5,273.4 342.5,271.8 341.5,270.5 340.5,269.7 339.5,268.8 338.5,267.0 337.5,264.0 336.5,260.6 335.5,257.1 334.5,255.2 333.5,255.1 332.5,256.6 331.5,259.1 330.5,261.9 329.5,263.6 328.5,264.1 327.5,263.6 326.5,262.9 325.5,262.0 324.5,261.4 323.5,261.3 322.5,261.5 321.5,262.0 320.5,262.5 319.5,262.2 318.5,261.0 317.5,260.5 316.5,260.9 315.5,261.4 314.5,262.2 313.5,263.1 312.5,262.8 311.5,261.2 310.5,259.1 309.5,257.2 308.5,255.4 307.5,253.2 306.5,250.9 305.5,248.6 304.5,246.1 303.5,243.2 302.5,240.1 301.5,236.8 300.5,235.4 299.5,235.5 298.5,236.6 297.5,239.0 296.5,242.6 295.5,245.7 294.5,248.2 293.5,250.4 292.5,252.6 291.5,254.0 290.5,254.2 289.5,253.3 288.5,251.8 287.5,250.0 286.5,248.2 285.5,247.0 284.5,246.4 283.5,246.7 282.5,248.4 281.5,250.8 280.5,253.3 279.5,255.2 278.5,255.3 277.5,253.3 276.5,250.8 275.5,248.8 274.5,248.0 273.5,248.9 272.5,251.7 271.5,255.1 270.5,258.5 269.5,261.7 268.5,264.8 267.5,267.6 266.5,269.9 265.5,271.4 264.5,272.3 263.5,273.1 262.5,273.7 261.5,274.3 260.5,275.1 259.5,276.2 258.5,277.4 257.5,278.7 256.5,280.2 255.5,282.0 254.5,284.1 253.5,286.4 252.5,288.7 251.5,291.3 250.5,294.2 249.5,297.2 248.5,300.3 247.5,303.6 246.5,306.8 245.5,309.9 244.5,312.7 243.5,315.3 242.5,317.8 241.5,320.1 240.5,322.3 239.5,324.2 238.5,325.6 237.5,326.5 236.5,327.1 235.5,327.5 234.5,328.0 233.5,328.7 232.5,329.6 231.5,330.2 230.5,330.4 229.5,330.1 228.5,329.6 227.5,328.9 226.5,328.6 225.5,328.7 224.5,329.2 223.5,330.0 222.5,330.9 221.5,331.7 220.5,332.5 219.5,333.0 218.5,333.0 217.5,333.0 216.5,333.0 215.5,333.0 214.5,332.3 213.5,331.6 212.5,331.2 211.5,331.0 210.5,331.0 209.5,331.3 208.5,331.8 207.5,332.4 206.5,333.0 205.5,333.0 204.5,333.0 203.5,333.0 202.5,333.0 201.5,333.0 200.5,333.0 199.5,333.0 198.5,333.0 197.5,333.0 196.5,333.0 195.5,333.0 194.5,333.0 193.5,333.0 192.5,333.0 191.5,333.0 190.5,333.0 189.5,333.0 188.5,333.0 187.5,333.0 186.5,333.0 185.5,333.0 184.5,333.0 183.5,333.0 182.5,333.0 181.5,333.0 180.5,333.0 179.5,333.0 178.5,333.0 177.5,333.0 176.5,333.0 175.5,333.0 174.5,333.0 173.5,333.0 172.5,333.0 171.5,333.0 170.5,333.0 169.5,333.0 168.5,333.0 167.5,333.0 166.5,333.0 165.5,333.0 164.5,333.0 163.5,333.0 162.5,333.0 161.5,333.0 160.5,333.0 159.5,333.0 158.5,333.0 157.5,333.0 156.5,333.0 155.5,333.0 154.5,333.0 153.5,333.0 152.5,333.0 151.5,333.0 150.5,333.0 149.5,333.0 148.5,333.0 147.5,333.0 146.5,333.0 145.5,333.0 144.5,333.0 143.5,333.0 142.5,333.0 141.5,333.0 140.5,333.0 139.5,333.0 138.5,333.0 137.5,333.0 136.5,333.0 135.5,333.0 134.5,333.0 133.5,333.0 132.5,333.0 131.5,333.0 130.5,333.0 129.5,333.0 128.5,333.0 127.5,333.0 126.5,333.0 125.5,333.0 124.5,333.0 123.5,333.0 122.5,333.0 121.5,333.0 120.5,333.0 119.5,333.0 118.5,333.0 117.5,333.0 116.5,333.0 115.5,333.0 114.5,333.0 113.5,333.0 112.5,333.0 111.5,333.0 110.5,333.0 109.5,333.0 108.5,333.0 107.5,333.0 106.5,333.0 105.5,333.0 104.5,333.0 103.5,333.0 102.5,333.0 101.5,333.0 100.5,333.0 99.5,333.0 98.5,333.0 97.5,333.0 96.5,333.0 95.5,333.0 94.5,333.0 93.5,333.0 92.5,333.0 91.5,333.0 90.5,333.0 89.5,333.0 88.5,333.0 87.5,333.0 86.5,333.0 85.5,333.0 84.5,333.0 83.5,333.0 82.5,333.0 81.5,333.0 80.5,333.0 79.5,333.0 78.5,333.0 77.5,333.0 76.5,333.0 75.5,333.0 74.5,333.0 73.5,333.0 72.5,333.0 71.5,333.0 70.5,333.0" fill="#ff0000" fill-opacity="0.043"/>
<g fill="none" stroke-width="2.2" stroke-linejoin="round" stroke-linecap="butt">
<polyline points="70.5,333.2 121.0,333.2 124.0,330.5 127.0,333.0 162.0,333.0 168.0,331.0 172.0,329.6 176.0,329.0 180.0,328.0 184.0,327.0 188.0,323.0 190.0,322.2 193.7,319.8 196.9,316.1 199.8,316.6 202.8,313.1 206.0,311.2 209.1,316.1 211.6,310.0 214.5,311.2 218.2,313.1 221.9,311.2 226.3,310.0 229.3,306.3 231.7,305.0 234.7,307.5 237.9,307.5 241.5,305.8 245.2,301.4 248.9,296.4 252.6,290.3 255.8,289.1 259.9,289.8 263.3,285.2 266.7,272.1 269.6,269.7 274.5,278.3 279.0,269.7 281.4,268.4 283.9,270.9 288.0,263.5 291.2,257.4 294.2,244.4 297.1,256.2 300.3,257.4 302.0,259.8 304.5,246.3 307.2,241.9 310.1,251.3 313.3,262.3 315.8,264.8 319.9,263.5 322.9,255.9 326.1,251.0 328.6,247.3 331.8,253.4 334.7,258.0 338.4,265.0 340.5,264.0 342.6,272.0 345.4,278.3 348.2,279.0 351.0,281.8 353.8,283.5 356.6,282.5 358.4,285.0 360.3,279.7 362.9,291.4 365.4,301.3 367.9,307.4 371.5,306.2 374.5,313.5 376.9,322.1 378.9,318.4 381.8,323.3 385.0,327.0 388.2,329.5 392.4,327.8 396.1,329.5 398.8,327.5 401.6,331.0 405.7,332.1 410.0,332.1 417.2,331.0 421.8,333.0 440.0,332.6 454.0,331.7 458.5,333.0 494.5,332.8" stroke="#000"/>
<polyline points="70.5,333.2 117.0,333.2 119.0,331.0 122.0,332.4 130.0,333.0 137.0,332.0 143.0,329.6 146.0,330.6 149.0,330.0 154.0,330.0 158.0,328.6 161.0,330.0 166.0,325.0 169.0,327.0 172.0,328.0 176.0,324.0 179.0,319.0 182.0,318.0 185.0,312.0 188.0,315.0 191.0,316.0 193.0,311.2 195.4,312.4 198.6,310.0 202.3,308.7 205.2,312.4 207.7,307.5 210.1,305.0 213.3,306.3 215.8,303.3 219.0,298.9 221.9,300.1 224.8,296.9 227.3,295.2 230.5,300.1 233.7,294.0 236.6,289.1 239.1,284.2 242.0,283.0 245.2,278.0 248.4,275.6 250.5,268.0 252.5,261.1 255.4,251.3 258.6,240.2 261.0,236.5 263.5,239.0 267.4,229.6 270.1,234.8 272.5,234.8 275.3,229.9 277.5,226.5 280.7,221.8 284.4,215.7 287.3,209.5 289.8,210.8 291.7,207.1 294.2,219.4 297.1,203.4 299.1,195.3 302.0,213.2 306.4,207.1 310.1,212.0 314.3,224.3 318.2,218.1 323.6,242.7 327.3,224.3 329.8,221.5 332.0,231.0 334.9,244.0 338.4,263.6 340.1,262.9 343.3,251.0 345.4,267.8 347.5,268.5 351.0,280.4 353.1,286.0 354.8,288.0 357.3,291.4 360.5,293.9 364.2,300.0 367.9,304.9 371.5,306.2 374.5,309.8 376.9,307.4 380.1,318.4 383.3,322.1 386.7,325.8 388.5,327.5 394.2,326.4 397.5,327.5 400.0,325.2 402.2,329.9 405.7,331.0 408.0,329.9 410.8,323.0 413.1,329.9 417.2,331.0 421.8,332.1 427.5,331.0 431.0,328.7 434.4,330.5 439.0,329.9 442.5,332.6 455.0,333.0 462.0,333.0 465.5,331.8 469.0,333.0 494.5,333.2" stroke="#0000ff"/>
<polyline points="70.5,333.2 134.0,333.2 136.0,329.4 139.0,331.6 143.0,333.0 148.0,333.0 152.4,330.6 156.0,331.6 160.0,328.6 162.0,329.6 164.4,326.0 167.6,330.0 170.4,328.6 173.0,329.0 176.0,328.0 178.4,319.0 182.0,322.4 187.0,318.0 190.0,320.0 193.7,320.5 196.9,313.6 199.8,311.2 203.5,304.3 206.7,300.9 211.6,296.9 214.5,300.1 217.7,303.8 221.9,298.9 226.3,292.3 230.5,298.9 235.4,291.5 238.3,292.0 241.5,280.5 244.5,269.4 246.9,257.2 250.1,240.0 252.6,229.0 255.2,219.9 257.7,212.0 260.1,209.6 262.6,203.4 265.0,205.9 268.2,193.6 271.4,176.4 275.1,155.6 278.0,181.3 280.0,178.9 282.2,161.7 284.7,159.8 287.1,165.4 290.3,176.9 292.3,175.2 295.2,159.3 297.2,156.8 299.6,132.9 302.1,153.1 303.8,155.6 306.7,172.8 308.7,174.5 311.1,185.6 314.3,192.9 316.6,178.2 318.9,188.7 321.0,189.4 323.5,182.4 325.9,188.7 330.8,191.5 333.7,165.2 336.9,189.3 340.6,202.8 343.0,197.9 346.2,221.2 348.7,232.2 350.4,222.4 352.9,244.0 356.8,252.2 359.8,245.3 362.2,251.0 364.2,264.4 366.1,279.2 369.6,273.0 373.5,284.1 376.9,277.2 380.1,295.1 383.3,304.9 386.7,314.8 390.7,324.6 393.6,319.5 396.6,325.5 400.5,319.7 404.5,325.2 408.0,328.2 411.4,331.0 414.9,329.9 419.5,331.0 425.2,332.6 431.0,332.6 436.8,332.6 442.0,329.2 445.3,333.3 454.0,332.8 465.5,333.3 477.0,333.3 494.5,333.3" stroke="#ff0000"/>
</g></g>
<text transform="translate(102.6,366.8) scale(1,1.045)" font-size="26px" text-anchor="middle" style="fill:#262626;stroke:#262626;stroke-width:0.45px">May</text>
<text transform="translate(178.1,366.8) scale(1,1.045)" font-size="26px" text-anchor="middle" style="fill:#262626;stroke:#262626;stroke-width:0.45px">Jun</text>
<text transform="translate(251.1,366.8) scale(1,1.045)" font-size="26px" text-anchor="middle" style="fill:#262626;stroke:#262626;stroke-width:0.45px">Jul</text>
<text transform="translate(326.6,366.8) scale(1,1.045)" font-size="26px" text-anchor="middle" style="fill:#262626;stroke:#262626;stroke-width:0.45px">Aug</text>
<text transform="translate(402.1,366.8) scale(1,1.045)" font-size="26px" text-anchor="middle" style="fill:#262626;stroke:#262626;stroke-width:0.45px">Sep</text>
<text transform="translate(475.1,366.8) scale(1,1.045)" font-size="26px" text-anchor="middle" style="fill:#262626;stroke:#262626;stroke-width:0.45px">Oct</text>
<text transform="translate(60.4,342.0) scale(1,1.045)" font-size="25.8px" text-anchor="end" style="fill:#262626;stroke:#262626;stroke-width:0.45px">0</text>
<text transform="translate(60.4,269.2) scale(1,1.045)" font-size="25.8px" text-anchor="end" style="fill:#262626;stroke:#262626;stroke-width:0.45px">1</text>
<text transform="translate(60.4,196.5) scale(1,1.045)" font-size="25.8px" text-anchor="end" style="fill:#262626;stroke:#262626;stroke-width:0.45px">2</text>
<text transform="translate(60.4,123.8) scale(1,1.045)" font-size="25.8px" text-anchor="end" style="fill:#262626;stroke:#262626;stroke-width:0.45px">3</text>
<text transform="translate(60.4,51.0) scale(1,1.045)" font-size="25.8px" text-anchor="end" style="fill:#262626;stroke:#262626;stroke-width:0.45px">4</text>
<text transform="translate(281.8,400.7) scale(1,1.045)" font-size="29px" text-anchor="middle" style="fill:#262626;stroke:#262626;stroke-width:0.3px">Time</text>
<text transform="translate(34.7,303.2) rotate(-90) scale(1,1.045)" font-size="29px" text-anchor="start" style="fill:#262626;stroke:#262626;stroke-width:0.3px">Daily runoff (<tspan dx="0.9">m</tspan><tspan font-size="22.5px" dy="-11.4" dx="1.3">3</tspan><tspan dy="11.4" dx="0.8"> s</tspan><tspan font-size="22.5px" dy="-11.4" dx="2">−</tspan><tspan font-size="22.5px" dx="-1">1</tspan><tspan dy="11.4" dx="2.8">)</tspan></text>
<rect x="70.65" y="5.65" width="178.05" height="93.15" fill="#fff" stroke="#262626" stroke-width="1.25"/>
<path d="M83 23.4H120.2" stroke="#000" stroke-width="2.2" fill="none"/>
<text transform="translate(126.7,31.5) scale(1,1.045)" font-size="22.3px" text-anchor="start" style="fill:#000;stroke:#000;stroke-width:0.55px">1960–1979</text>
<path d="M83 52.0H120.2" stroke="#0000ff" stroke-width="2.2" fill="none"/>
<text transform="translate(126.7,60.1) scale(1,1.045)" font-size="22.3px" text-anchor="start" style="fill:#000;stroke:#000;stroke-width:0.55px">1980–1999</text>
<path d="M83 80.6H120.2" stroke="#ff0000" stroke-width="2.2" fill="none"/>
<text transform="translate(126.7,88.7) scale(1,1.045)" font-size="22.3px" text-anchor="start" style="fill:#000;stroke:#000;stroke-width:0.55px">2000–2019</text>
</svg></body></html>
